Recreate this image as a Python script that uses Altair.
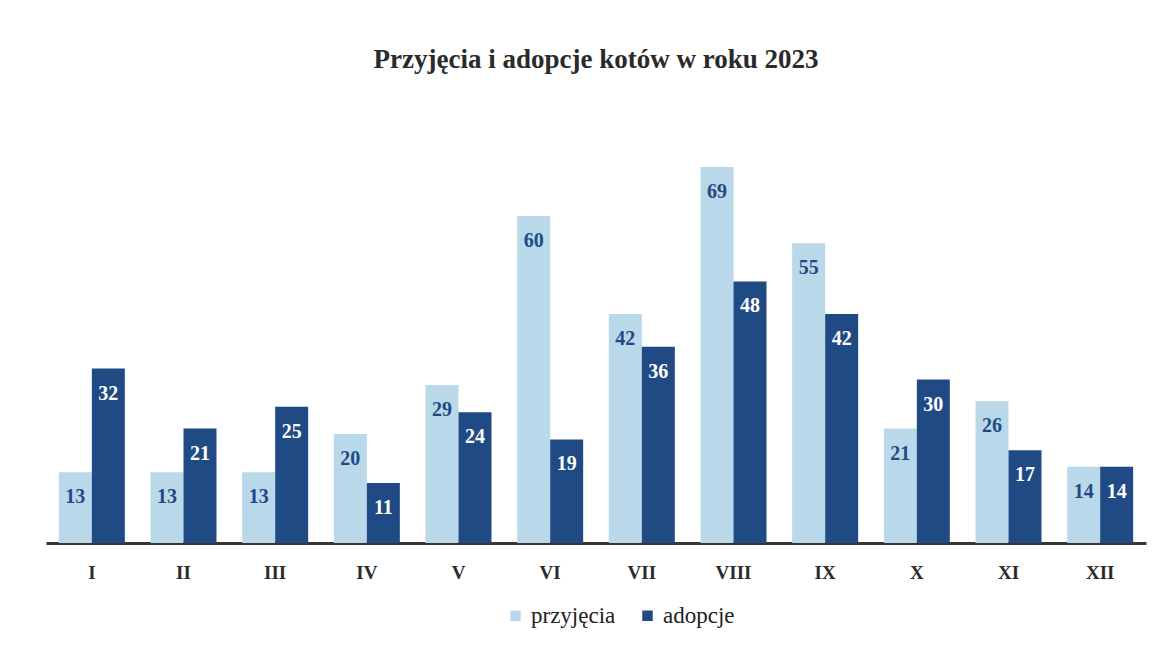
import altair as alt
import pandas as pd

months = ["I", "II", "III", "IV", "V", "VI", "VII", "VIII", "IX", "X", "XI", "XII"]
przyjecia = [13, 13, 13, 20, 29, 60, 42, 69, 55, 21, 26, 14]
adopcje = [32, 21, 25, 11, 24, 19, 36, 48, 42, 30, 17, 14]
series = ["przyjęcia", "adopcje"]

rows = []
for m, p, a in zip(months, przyjecia, adopcje):
    rows.append({"miesiac": m, "seria": series[0], "wartosc": p})
    rows.append({"miesiac": m, "seria": series[1], "wartosc": a})
df = pd.DataFrame(rows)

LIGHT = "#b9d8ea"
DARK = "#1f4a84"
FONT = "Liberation Serif"

x = alt.X("miesiac:N", sort=months, title=None,
          scale=alt.Scale(paddingInner=0.28, paddingOuter=0.14),
          axis=alt.Axis(labelAngle=0, ticks=False, domainColor="#3a3532", domainWidth=3,
                        labelFont=FONT, labelFontWeight="bold", labelFontSize=19,
                        labelColor="#2b2b2b", labelPadding=20))
xo = alt.XOffset("seria:N", sort=series, scale=alt.Scale(paddingInner=0, paddingOuter=0))
y = alt.Y("wartosc:Q", scale=alt.Scale(domain=[0, 80]), axis=None, title=None)

bars = alt.Chart(df).mark_bar(size=33).encode(
    x=x, xOffset=xo, y=y,
    color=alt.Color("seria:N", sort=series,
                    scale=alt.Scale(domain=series, range=[LIGHT, DARK]),
                    legend=alt.Legend(title=None, orient="none", direction="horizontal",
                                      legendX=458, legendY=497,
                                      symbolType="square", symbolSize=110,
                                      labelFont=FONT, labelFontSize=23,
                                      labelFontWeight="normal", labelColor="#222222",
                                      columnPadding=20, symbolStrokeWidth=0)),
)

labels = alt.Chart(df).mark_text(font=FONT, fontWeight="bold", fontSize=20,
                                 baseline="middle", dy=25).encode(
    x=x, xOffset=xo, y=y,
    text="wartosc:Q",
    color=alt.condition(alt.datum.seria == "adopcje", alt.value("white"), alt.value(DARK)),
)

chart = (bars + labels).properties(
    width=1100, height=436,
    background="white",
    autosize=alt.AutoSizeParams(type="none"),
    padding={"left": 38, "top": 99, "right": 12, "bottom": 100},
    title=alt.TitleParams("Przyjęcia i adopcje kotów w roku 2023", font=FONT, fontSize=27,
                          fontWeight="bold", color="#2a2a2a", anchor="middle", offset=33),
).configure(font=FONT).configure_view(strokeWidth=0, stroke=None)

chart.save("out.html", embed_options={"renderer": "svg", "actions": False})
